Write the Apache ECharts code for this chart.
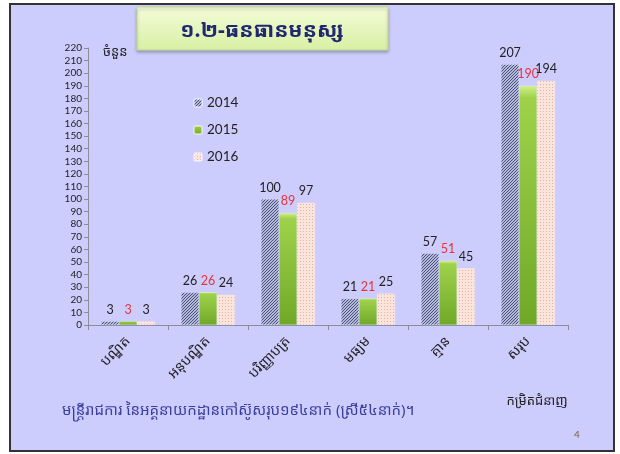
<!DOCTYPE html>
<html>
    <head>
        <meta charset="utf-8">
        <style>
            html, body { margin: 0; padding: 0; background: #fff; }
        </style>
    </head>
    <body>
        <div id="main" style="width:620px;height:454px"></div>
        <script src="https://cdn.jsdelivr.net/npm/echarts@6/dist/echarts.min.js"></script>
        <script type="text/javascript">
            // data
            var categories = ['បណ្ឌិត', 'អនុបណ្ឌិត', 'បរិញ្ញាបត្រ', 'មធ្យម', 'គ្មាន', 'សរុប']
            var years = ['2014', '2015', '2016']
            var v2014 = [3, 26, 100, 21, 57, 207]
            var v2015 = [3, 26, 89, 21, 51, 190]
            var v2016 = [3, 24, 97, 25, 45, 194]
            var yTicks = { min: 0, max: 220, interval: 10 }

            var khmer = '"Noto Sans Khmer", "Khmer OS", "Noto Sans", sans-serif'
            var latin = 'Lato, "Open Sans", sans-serif'

            // small canvas patterns for the hatched / dotted bars
            function hatch() {
                var c = document.createElement('canvas')
                c.width = 3; c.height = 3
                var g = c.getContext('2d')
                g.fillStyle = '#b4b8d8'
                g.fillRect(0, 0, 3, 3)
                g.fillStyle = '#4a5282'
                g.fillRect(2, 0, 1, 1)
                g.fillRect(1, 1, 1, 1)
                g.fillRect(0, 2, 1, 1)
                return c
            }
            function dots() {
                var c = document.createElement('canvas')
                c.width = 3; c.height = 3
                var g = c.getContext('2d')
                g.fillStyle = '#fbe4da'
                g.fillRect(0, 0, 3, 3)
                g.fillStyle = '#e6b0a8'
                g.fillRect(0, 0, 1, 1)
                return c
            }

            var c2014 = { image: hatch(), repeat: 'repeat' }
            var c2015 = {
                type: 'linear', x: 0, y: 0, x2: 0, y2: 1,
                colorStops: [{ offset: 0, color: '#d2f08e' }, { offset: 0.05, color: '#9fd24a' }, { offset: 1, color: '#6fa828' }]
            }
            var c2016 = { image: dots(), repeat: 'repeat' }

            function bar(name, data, color, labelColor) {
                return {
                    name: name,
                    type: 'bar',
                    data: data,
                    barWidth: 18,
                    barGap: '0%',
                    itemStyle: { color: color, borderColor: 'rgba(255,255,255,0.45)', borderWidth: 0.5 },
                    label: {
                        show: true, position: 'top', distance: 5,
                        color: labelColor, fontFamily: latin, fontSize: 12.5
                    }
                }
            }

            var option = {
                backgroundColor: '#fff',
                animation: false,
                graphic: [
                    {
                        type: 'rect', z: -10,
                        shape: { x: 10, y: 4, width: 604, height: 447 },
                        style: { fill: '#cdcdfd', stroke: '#333', lineWidth: 2 }
                    },
                    {
                        type: 'rect', z: 10,
                        shape: { x: 137, y: 7, width: 251, height: 43 },
                        style: {
                            fill: {
                                type: 'linear', x: 0, y: 0, x2: 0, y2: 1,
                                colorStops: [{ offset: 0, color: '#f4fbd8' }, { offset: 1, color: '#d8f0a4' }]
                            },
                            stroke: '#c2dc8c', lineWidth: 1,
                            shadowColor: 'rgba(0,0,0,0.25)', shadowBlur: 3, shadowOffsetY: 2
                        }
                    },
                    {
                        type: 'text', z: 11, x: 262, y: 31,
                        style: {
                            text: '១.២-ធនធានមនុស្ស', fill: '#1f2870',
                            font: 'bold 21px ' + khmer, align: 'center', verticalAlign: 'middle'
                        }
                    },
                    {
                        type: 'text', z: 11, x: 103, y: 52,
                        style: { text: 'ចំនួន', fill: '#222', font: '13px ' + khmer, verticalAlign: 'middle' }
                    },
                    {
                        type: 'text', z: 11, x: 537, y: 401,
                        style: { text: 'កម្រិតជំនាញ', fill: '#222', font: '13px ' + khmer, align: 'center', verticalAlign: 'middle' }
                    },
                    {
                        type: 'text', z: 11, x: 62, y: 411,
                        style: {
                            text: 'មន្ត្រីរាជការ នៃអគ្គនាយកដ្ឋានកៅស៊ូសរុប១៩៤នាក់ (ស្រី៥៤នាក់)។',
                            fill: '#3a3fa0', font: '15px ' + khmer, verticalAlign: 'middle'
                        }
                    },
                    {
                        type: 'text', z: 11, x: 577, y: 435,
                        style: { text: '4', fill: '#7a6040', font: '10px ' + latin, align: 'center', verticalAlign: 'middle' }
                    }
                ],
                legend: {
                    orient: 'vertical',
                    left: 188, top: 91,
                    itemWidth: 8, itemHeight: 8, itemGap: 13,
                    data: years,
                    textStyle: { fontFamily: latin, fontSize: 13.5, color: '#222' }
                },
                grid: { left: 88, right: 52, top: 48, bottom: 129 },
                xAxis: {
                    type: 'category',
                    data: categories,
                    axisLine: { lineStyle: { color: '#8c8c9c' } },
                    axisTick: { show: true, length: 5, lineStyle: { color: '#8c8c9c' } },
                    axisLabel: {
                        rotate: 45, margin: 14, color: '#222',
                        fontFamily: khmer, fontSize: 14
                    }
                },
                yAxis: {
                    type: 'value',
                    min: yTicks.min, max: yTicks.max, interval: yTicks.interval,
                    axisLine: { show: true, lineStyle: { color: '#8c8c9c' } },
                    axisTick: { show: true, length: 4, lineStyle: { color: '#8c8c9c' } },
                    splitLine: { show: false },
                    axisLabel: { color: '#222', fontFamily: latin, fontSize: 10, margin: 6 }
                },
                series: [
                    bar('2014', v2014, c2014, '#222'),
                    bar('2015', v2015, c2015, '#e8323c'),
                    bar('2016', v2016, c2016, '#222')
                ]
            }

            var mycharts = echarts.init(document.getElementById('main'))
            mycharts.setOption(option)
        </script>
    </body>
</html>
